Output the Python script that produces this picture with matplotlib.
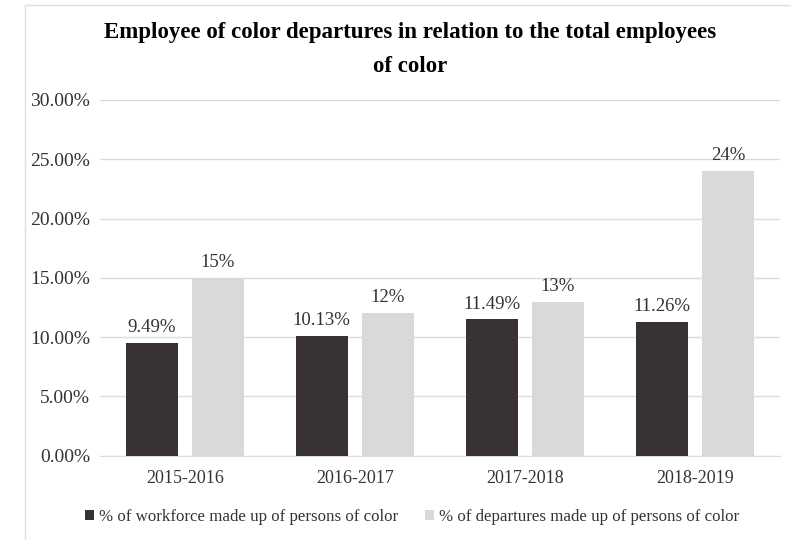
import matplotlib

matplotlib.use("Agg")
import matplotlib.pyplot as plt
import numpy as np
from matplotlib.patches import Rectangle
from matplotlib.ticker import FuncFormatter, MultipleLocator

plt.rcParams["font.family"] = ["Liberation Serif", "DejaVu Serif"]

years = ["2015-2016", "2016-2017", "2017-2018", "2018-2019"]
workforce = [9.49, 10.13, 11.49, 11.26]
departures = [15, 12, 13, 24]
workforce_labels = ["9.49%", "10.13%", "11.49%", "11.26%"]
departure_labels = ["15%", "12%", "13%", "24%"]

DARK = "#383232"
LIGHT = "#d9d9d9"
GRID = "#dcdcdc"

fig = plt.figure(figsize=(7.91, 5.4), dpi=100)
ax = fig.add_axes([0.126, 0.156, 0.86, 0.659])

x = np.arange(len(years))
w = 0.305
off = 0.194
b1 = ax.bar(x - off, workforce, w, color=DARK, label="% of workforce made up of persons of color", zorder=3)
b2 = ax.bar(x + off, departures, w, color=LIGHT, label="% of departures made up of persons of color", zorder=3)
ax.bar_label(b1, labels=workforce_labels, padding=5, fontsize=13.5, color="#333333")
ax.bar_label(b2, labels=departure_labels, padding=5, fontsize=13.5, color="#333333")

ax.set_xlim(-0.5, len(years) - 0.5)
ax.set_ylim(0, 30)
ax.yaxis.set_major_locator(MultipleLocator(5))
ax.yaxis.set_major_formatter(FuncFormatter(lambda v, _: f"{v:.2f}%"))
ax.set_xticks(x)
ax.set_xticklabels(years)
ax.tick_params(axis="both", length=0, labelsize=13, colors="#333333")
ax.tick_params(axis="y", labelsize=14, pad=7)
ax.tick_params(axis="x", pad=10)
ax.grid(axis="y", color=GRID, linewidth=1, zorder=0)
for s in ("top", "right", "left"):
    ax.spines[s].set_visible(False)
ax.spines["bottom"].set_color(GRID)

fig.text(0.519, 0.96, "Employee of color departures in relation to the total employees\nof color",
         ha="center", va="top", fontsize=16.5, fontweight="bold", linespacing=1.85)

fig.legend(loc="lower center", bbox_to_anchor=(0.521, 0.0), ncol=2, frameon=False,
           fontsize=12.2, handlelength=0.5, handleheight=0.5, handletextpad=0.3,
           columnspacing=1.6, labelcolor="#333333")

fig.patches.append(Rectangle((0.032, -0.01), 1.0, 1.0, transform=fig.transFigure,
                             fill=False, edgecolor="#e0e0e0", linewidth=1))

fig.savefig("out.png")
